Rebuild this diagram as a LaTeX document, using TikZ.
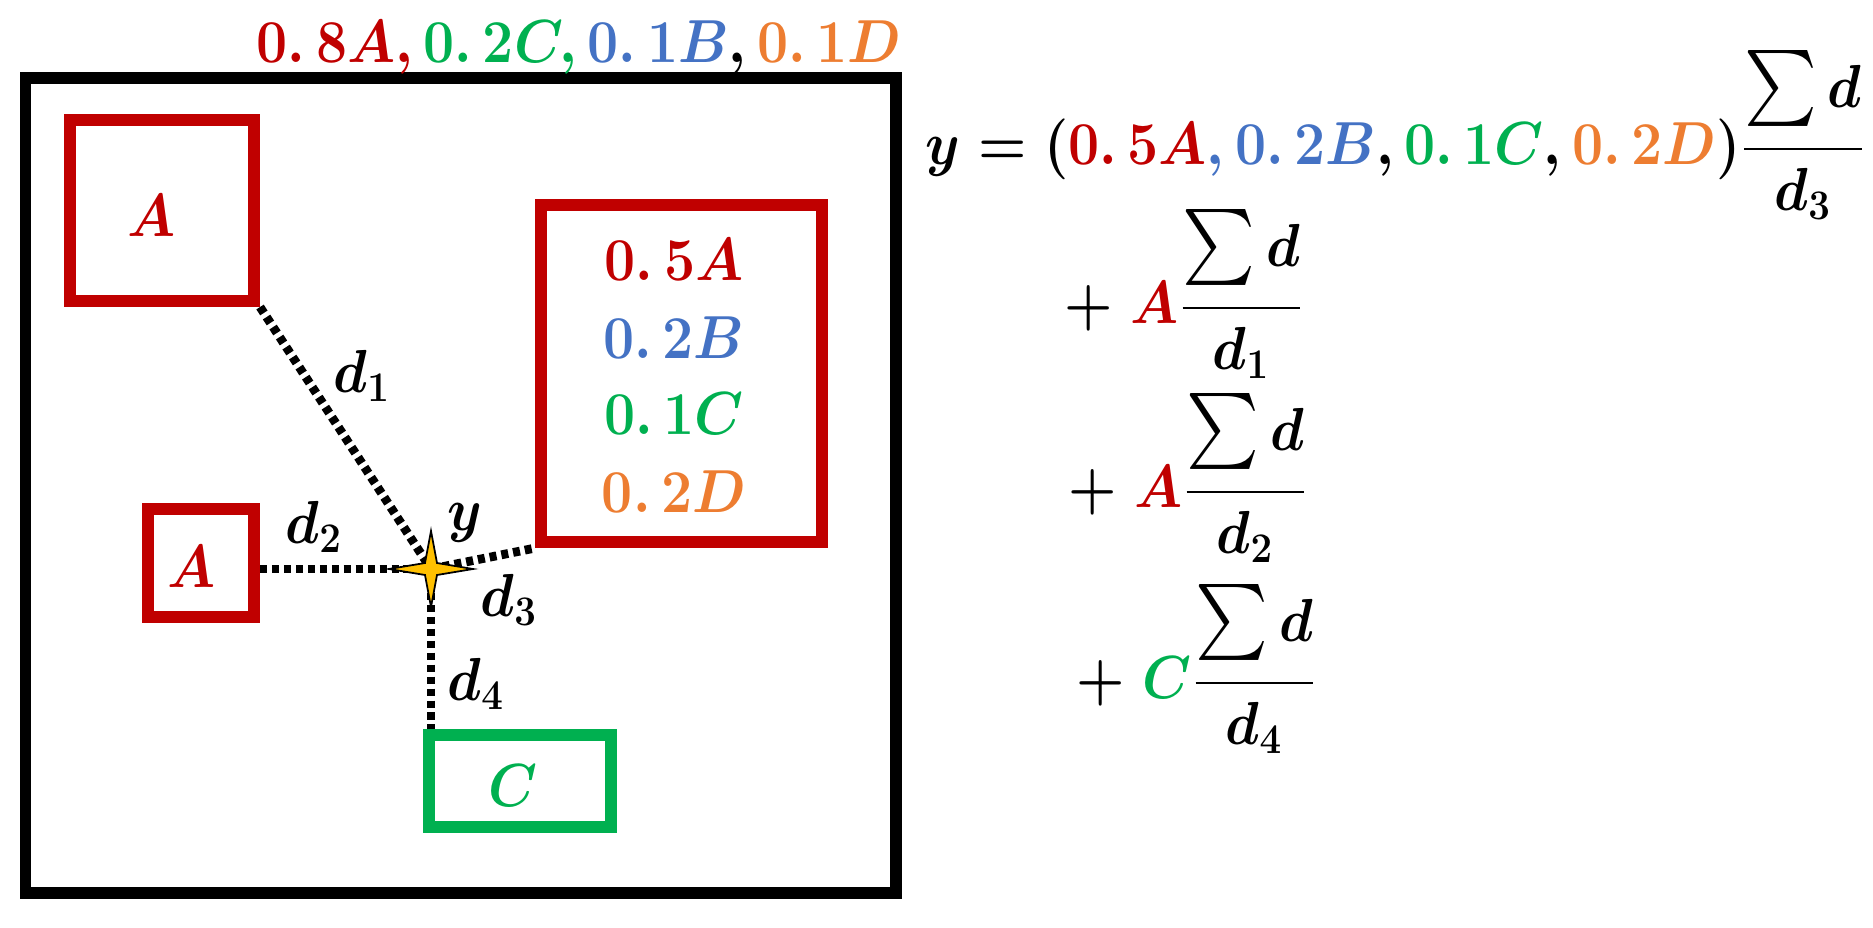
\documentclass[tikz,border=0pt]{standalone}
\usepackage{amsmath}
\usepackage{graphicx}
\definecolor{cred}{HTML}{C00000}
\definecolor{cgreen}{HTML}{00B050}
\definecolor{cblue}{HTML}{4472C4}
\definecolor{corange}{HTML}{ED7D31}
\definecolor{cstar}{HTML}{FFC000}
\newcommand\sqz[1]{\scalebox{0.91}[1]{#1}}
\newcommand\bigsum{\mathop{\scalebox{1.25}{$\textstyle\sum$}}}
\newcommand\numsd{\bigsum d\rule[-0.55em]{0pt}{0.1em}}
\tikzset{
  txt/.style={inner sep=0pt, font=\fontsize{17}{20}\selectfont\boldmath},
  bigtxt/.style={inner sep=0pt, font=\fontsize{19}{22}\selectfont\boldmath},
  boxred/.style={draw=cred, line width=3.4pt, inner sep=0pt},
  boxgreen/.style={draw=cgreen, line width=3.4pt, inner sep=0pt},
  frame/.style={draw=black, line width=3.4pt},
  dotline/.style={draw=black, line width=2.5pt, dash pattern=on 2pt off 1.4pt},
  starshape/.style={fill=cstar, draw=black, line width=0.5pt, line join=miter}
}
\begin{document}
\begin{tikzpicture}[x=0.01cm, y=-0.01cm]
\useasboundingbox (0,0) rectangle (1873,927);
% frame
\draw[frame] (25.5,78) rectangle (896,893);
% boxes
\node[boxred, minimum width=1.84cm, minimum height=1.81cm] (boxA1) at (162,210.5) {};
\node[boxred, minimum width=2.81cm, minimum height=3.37cm] (boxbig) at (681.5,373.5) {};
\node[boxred, minimum width=1.06cm, minimum height=1.08cm] (boxA2) at (201,563) {};
\node[boxgreen, minimum width=1.82cm, minimum height=0.92cm] (boxC) at (520,781) {};
% box letters
\node[bigtxt, anchor=base] (tA1) at (152,236) {\sqz{$\textcolor{cred}{A}$}};
\node[bigtxt, anchor=base] (tA2) at (192,587) {\sqz{$\textcolor{cred}{A}$}};
\node[bigtxt, anchor=base] (tC) at (513,806) {\sqz{$\textcolor{cgreen}{C}$}};
% big box contents
\node[txt, anchor=base] (b1) at (674,280) {\sqz{$\textcolor{cred}{0.\,5A}$}};
\node[txt, anchor=base] (b2) at (674,358) {\sqz{$\textcolor{cblue}{0.\,2B}$}};
\node[txt, anchor=base] (b3) at (674,434) {\sqz{$\textcolor{cgreen}{0.\,1C}$}};
\node[txt, anchor=base] (b4) at (674,512) {\sqz{$\textcolor{corange}{0.\,2D}$}};
% top label
\node[txt, anchor=base] (top) at (579,62) {\sqz{$\textcolor{cred}{0.\,8A,}\,\textcolor{cgreen}{0.\,2C,}\,\textcolor{cblue}{0.\,1B},\textcolor{corange}{0.\,1D}$}};
% star centre
\coordinate (y) at (431,569);
% connectors
\draw[dotline] (boxA1.south east) -- (y);
\draw[dotline] (boxA2.east |- y) -- (y);
\draw[dotline] (y) -- (boxbig.south west);
\draw[dotline] (y) -- (y |- boxC.north);
% star
\begin{scope}[shift={(y)}]
\draw[starshape] (0,-38) -- (6,-6) -- (42,0) -- (6,6) -- (0,38) -- (-6,6) -- (-42,0) -- (-6,-6) -- cycle;
\end{scope}
% distance labels
\node[txt, anchor=base west] (ld1) at (333,392) {\sqz{$d_1$}};
\node[txt, anchor=base west] (ld2) at (285,543) {\sqz{$d_2$}};
\node[txt, anchor=base west] (ld3) at (480,616) {\sqz{$d_3$}};
\node[txt, anchor=base west] (ld4) at (447,700) {\sqz{$d_4$}};
\node[txt, anchor=base west] (ly) at (447,530) {\sqz{$y$}};
% formula
\node[txt, anchor=west] (f1) at (925,135) {\sqz{$\displaystyle y=(\textcolor{cred}{0.\,5A}\textcolor{cblue}{,}\,\textcolor{cblue}{0.\,2B},\textcolor{cgreen}{0.\,1C},\textcolor{corange}{0.\,2D})\frac{\numsd}{d_3}$}};
\node[txt, anchor=west] (f2) at (1064,294) {\sqz{$\displaystyle +\;\textcolor{cred}{A}\frac{\numsd}{d_1}$}};
\node[txt, anchor=west] (f3) at (1068,478) {\sqz{$\displaystyle +\;\textcolor{cred}{A}\frac{\numsd}{d_2}$}};
\node[txt, anchor=west] (f4) at (1076,669) {\sqz{$\displaystyle +\;\textcolor{cgreen}{C}\frac{\numsd}{d_4}$}};
\end{tikzpicture}
\end{document}
